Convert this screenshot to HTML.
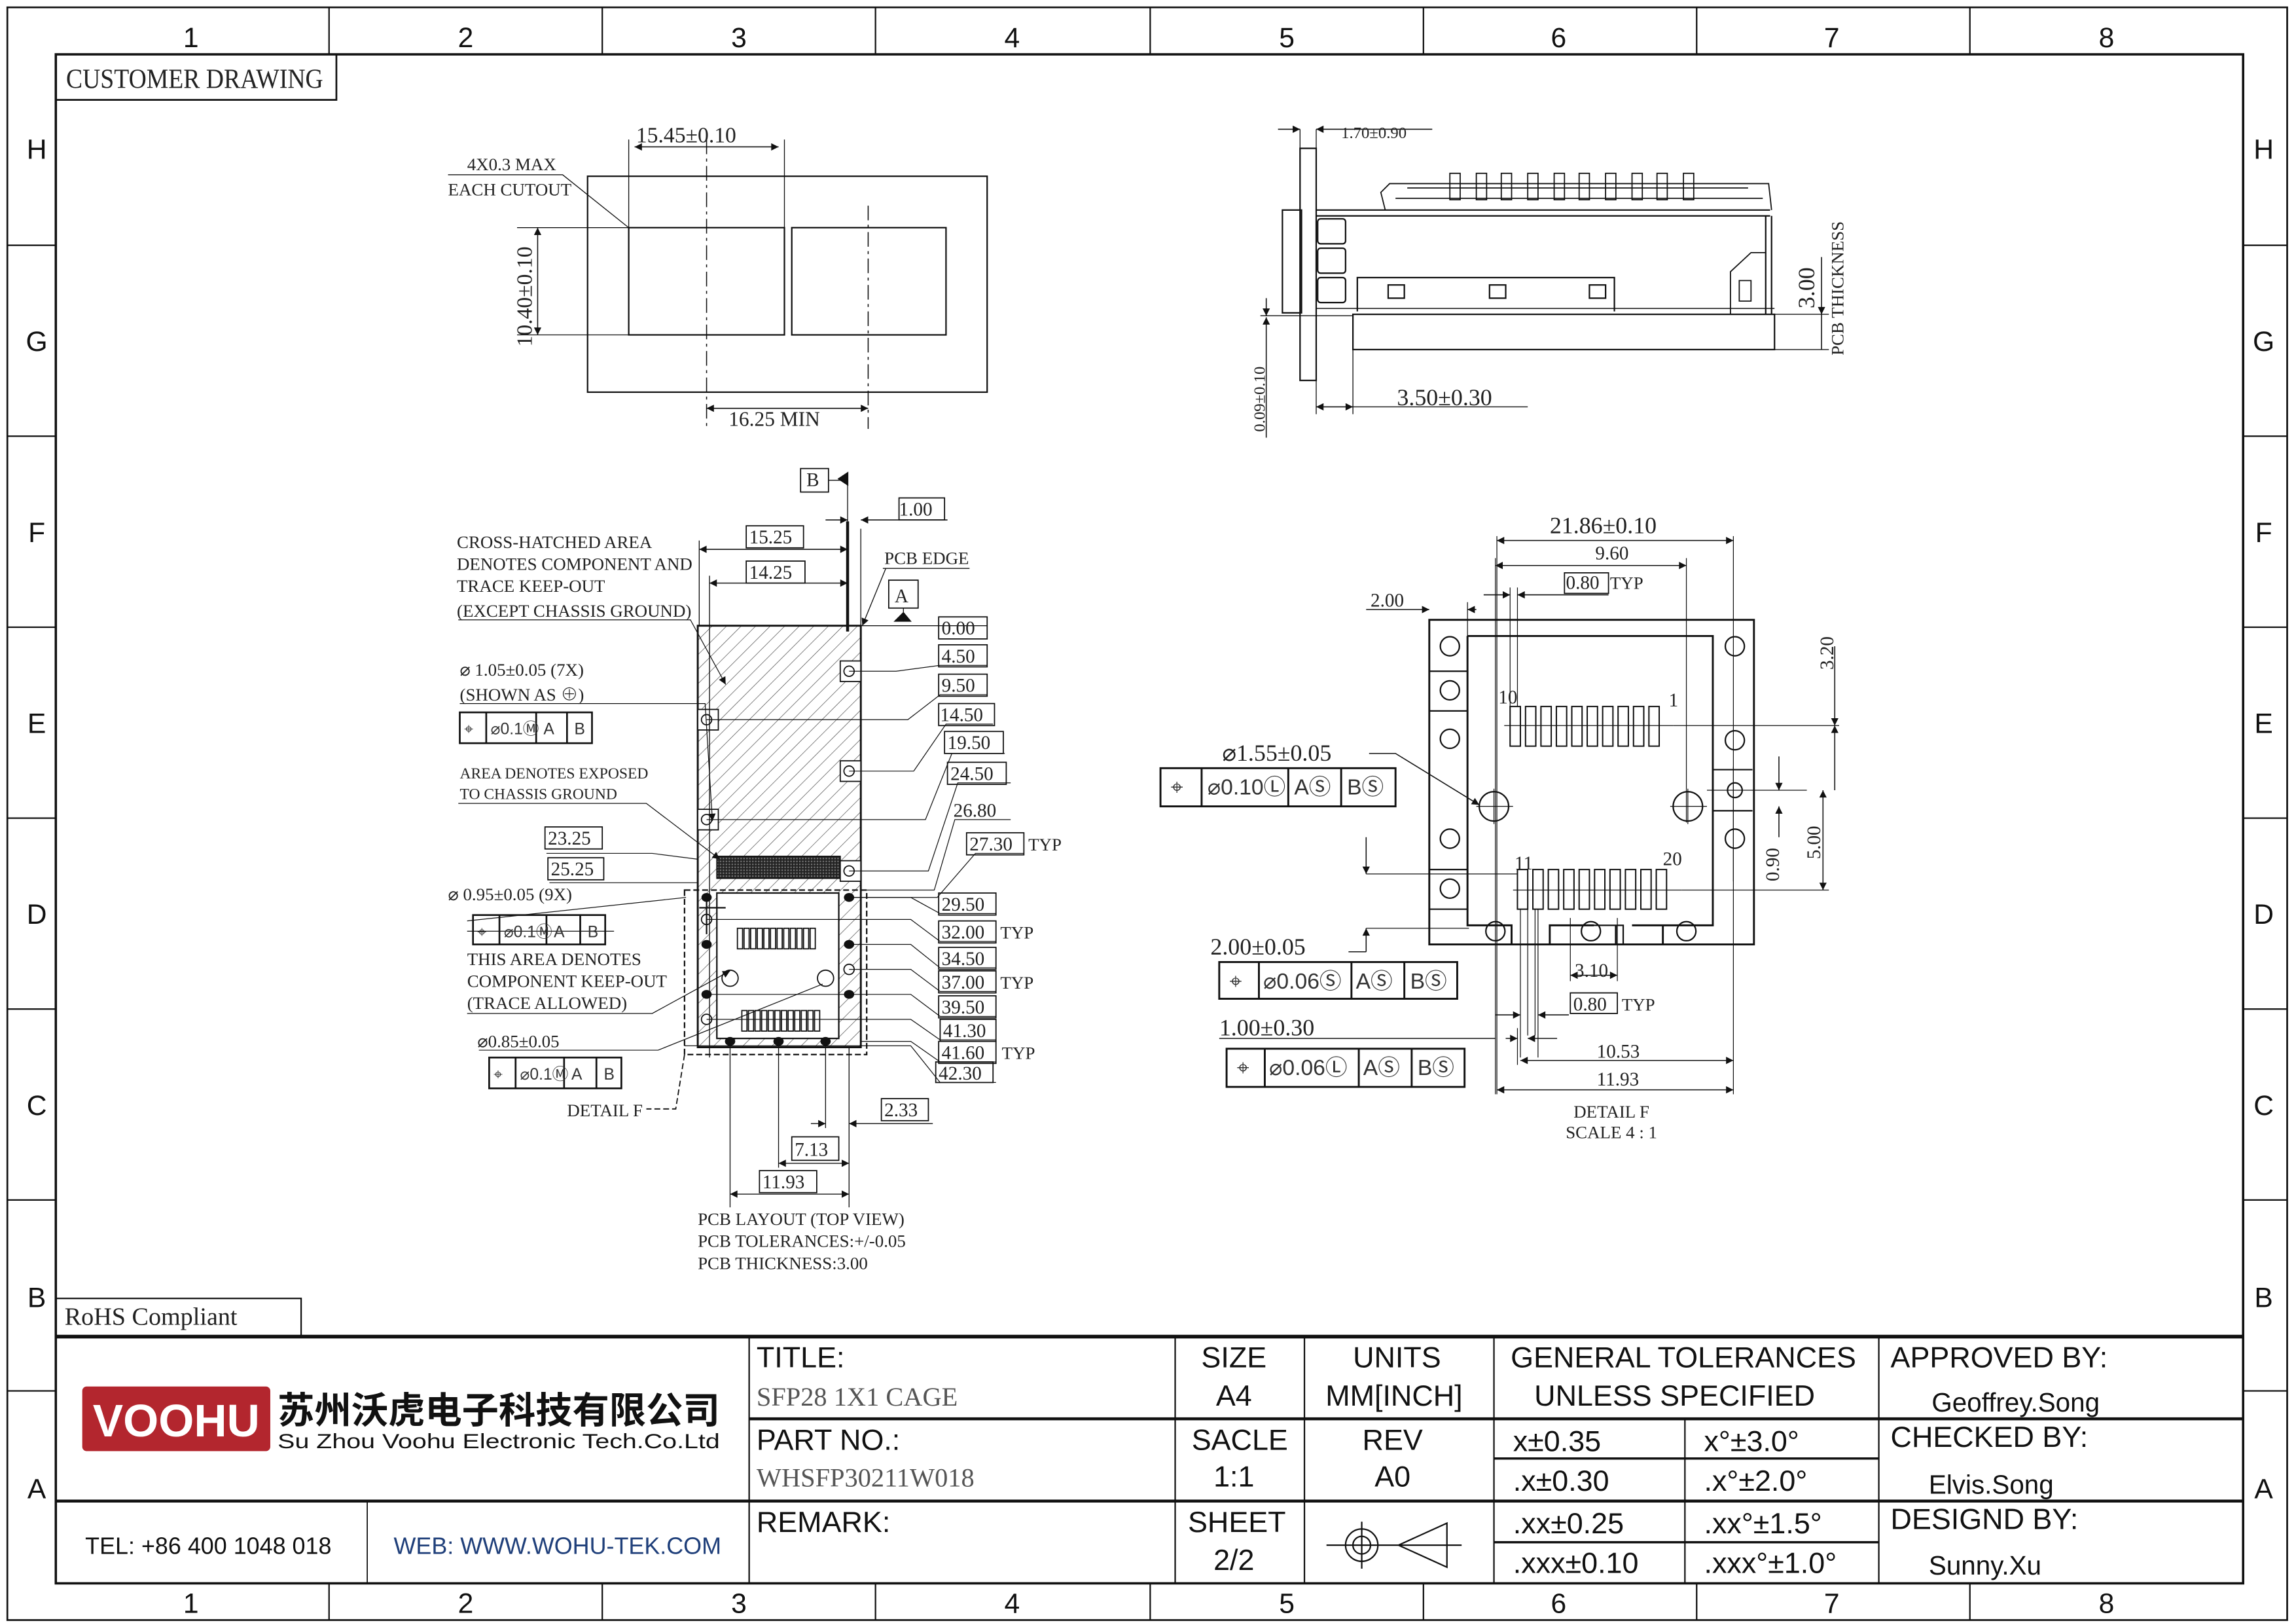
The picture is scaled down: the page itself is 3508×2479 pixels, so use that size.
<!DOCTYPE html>
<html><head><meta charset="utf-8"><style>
html,body{margin:0;padding:0;background:#fff}
svg{display:block}
.s{font-family:"Liberation Serif","Noto Serif CJK SC",serif;fill:#222}
.a{font-family:"Liberation Sans","Noto Sans CJK SC",sans-serif;fill:#111}
.m{font-family:"Liberation Sans",sans-serif;fill:#333}
</style></head><body>
<svg width="3508" height="2479" viewBox="0 0 1563 1105" preserveAspectRatio="none" xmlns="http://www.w3.org/2000/svg">
<defs>
<marker id="ar" viewBox="0 0 10 10" refX="10" refY="5" markerWidth="7" markerHeight="5" orient="auto-start-reverse" markerUnits="userSpaceOnUse"><path d="M0,0L10,5L0,10z" fill="#111"/></marker>
<pattern id="h" width="7" height="7" patternUnits="userSpaceOnUse" patternTransform="rotate(45)"><line x1="0" y1="0" x2="0" y2="7" stroke="#444" stroke-width="0.6"/></pattern>
<pattern id="d" width="2" height="2" patternUnits="userSpaceOnUse"><rect width="2" height="2" fill="#222"/><rect width="1" height="1" fill="#777"/></pattern>
</defs>
<rect width="1563" height="1105" fill="#fff"/>
<g fill="none" stroke="#111">
<rect x="5" y="5" width="1552" height="1098" stroke-width="1.2"/>
<rect x="38" y="37" width="1489" height="1041" stroke-width="1.6"/>
<path d="M224 5V37M410 5V37M596 5V37M783 5V37M969 5V37M1155 5V37M1341 5V37M224 1078V1103M410 1078V1103M596 1078V1103M783 1078V1103M969 1078V1103M1155 1078V1103M1341 1078V1103" stroke-width="1"/>
<path d="M5 167H38M5 297H38M5 427H38M5 557H38M5 687H38M5 817H38M5 947H38M1527 167H1557M1527 297H1557M1527 427H1557M1527 557H1557M1527 687H1557M1527 817H1557M1527 947H1557" stroke-width="1"/>
</g>
<g class="a" font-size="19" text-anchor="middle">
<text x="130" y="32">1</text><text x="317" y="32">2</text><text x="503" y="32">3</text><text x="689" y="32">4</text><text x="876" y="32">5</text><text x="1061" y="32">6</text><text x="1247" y="32">7</text><text x="1434" y="32">8</text>
<text x="130" y="1098">1</text><text x="317" y="1098">2</text><text x="503" y="1098">3</text><text x="689" y="1098">4</text><text x="876" y="1098">5</text><text x="1061" y="1098">6</text><text x="1247" y="1098">7</text><text x="1434" y="1098">8</text>
<text x="25" y="108">H</text><text x="25" y="239">G</text><text x="25" y="369">F</text><text x="25" y="499">E</text><text x="25" y="629">D</text><text x="25" y="759">C</text><text x="25" y="890">B</text><text x="25" y="1020">A</text>
<text x="1541" y="108">H</text><text x="1541" y="239">G</text><text x="1541" y="369">F</text><text x="1541" y="499">E</text><text x="1541" y="629">D</text><text x="1541" y="759">C</text><text x="1541" y="890">B</text><text x="1541" y="1020">A</text>
</g>
<rect x="38" y="37" width="191" height="31" fill="none" stroke="#111" stroke-width="1.2"/>
<text x="45" y="60" class="s" font-size="19" textLength="175" lengthAdjust="spacingAndGlyphs">CUSTOMER DRAWING</text>
<rect x="38" y="884" width="167" height="26" fill="none" stroke="#111" stroke-width="1"/>
<text x="44" y="902" class="s" font-size="17">RoHS Compliant</text>

<!-- cutout drawing -->
<g fill="none" stroke="#111" stroke-width="1">
<rect x="400" y="120" width="272" height="147"/>
<rect x="428" y="155" width="106" height="73"/>
<rect x="539" y="155" width="105" height="73"/>
<path d="M481 95V292M591 140V292" stroke-dasharray="10 3 2 3" stroke-width="0.7"/>
<path d="M428 95V155M534 95V155" stroke-width="0.6"/>
<line x1="432" y1="100" x2="530" y2="100" marker-start="url(#ar)" marker-end="url(#ar)" stroke-width="0.7"/>
<path d="M352 155H428M352 228H428" stroke-width="0.6"/>
<line x1="366" y1="155" x2="366" y2="228" marker-start="url(#ar)" marker-end="url(#ar)" stroke-width="0.7"/>
<line x1="481" y1="278" x2="591" y2="278" marker-start="url(#ar)" marker-end="url(#ar)" stroke-width="0.7"/>
<path d="M305 119H383L428 155" stroke-width="0.6"/>
</g>
<text x="433" y="97" class="s" font-size="15">15.45±0.10</text>
<text transform="translate(362,236) rotate(-90)" class="s" font-size="15">10.40±0.10</text>
<text x="496" y="290" class="s" font-size="14">16.25 MIN</text>
<text x="318" y="116" class="s" font-size="12">4X0.3 MAX</text>
<text x="305" y="133" class="s" font-size="12">EACH CUTOUT</text>

<!-- side view -->
<g fill="none" stroke="#111" stroke-width="1">
<rect x="885" y="101" width="11" height="158"/>
<rect x="873" y="143" width="13" height="70"/>
<rect x="897" y="149" width="19" height="17" rx="2"/><rect x="897" y="169" width="19" height="17" rx="2"/><rect x="897" y="189" width="19" height="17" rx="2"/>
<path d="M896 143H1205M896 147H1205"/>
<path d="M943 143L940 131L946 125H1204L1206 143M950 135H1200M958 128H1190" stroke-width="0.8"/>
<g stroke-width="0.8">
<rect x="987" y="118" width="7" height="18"/><rect x="1005" y="118" width="7" height="18"/><rect x="1022" y="118" width="7" height="18"/><rect x="1040" y="118" width="7" height="18"/><rect x="1058" y="118" width="7" height="18"/><rect x="1075" y="118" width="7" height="18"/><rect x="1093" y="118" width="7" height="18"/><rect x="1111" y="118" width="7" height="18"/><rect x="1128" y="118" width="7" height="18"/><rect x="1146" y="118" width="7" height="18"/>
</g>
<path d="M924 212V189H1099V212" />
<rect x="945" y="194" width="11" height="9"/><rect x="1014" y="194" width="11" height="9"/><rect x="1082" y="194" width="11" height="9"/>
<path d="M1202 147V214M1206 147V214"/>
<path d="M1178 214V185L1192 172H1202M1184 191h8v14h-8z" stroke-width="0.8"/>
<path d="M896 210H1208" stroke-width="0.7"/>
<rect x="921" y="214" width="287" height="24"/>
<path d="M885 88V101M896 88V101" stroke-width="0.6"/>
<line x1="870" y1="88" x2="885" y2="88" marker-end="url(#ar)" stroke-width="0.7"/>
<line x1="975" y1="88" x2="896" y2="88" marker-end="url(#ar)" stroke-width="0.7"/>
<path d="M858 215H921" stroke-width="0.6"/>
<line x1="862" y1="203" x2="862" y2="215" marker-end="url(#ar)" stroke-width="0.7"/>
<line x1="862" y1="298" x2="862" y2="216" marker-end="url(#ar)" stroke-width="0.7"/>
<path d="M896 259V282M921 238V282" stroke-width="0.6"/>
<line x1="896" y1="277" x2="921" y2="277" marker-start="url(#ar)" marker-end="url(#ar)" stroke-width="0.7"/>
<line x1="921" y1="277" x2="1040" y2="277" stroke-width="0.6"/>
<path d="M1208 214H1245M1208 238H1245" stroke-width="0.6"/>
<line x1="1240" y1="175" x2="1240" y2="214" marker-end="url(#ar)" stroke-width="0.7"/>
<line x1="1240" y1="238" x2="1240" y2="214" stroke-width="0.7"/>
</g>
<text x="913" y="94" class="s" font-size="11">1.70±0.90</text>
<text transform="translate(861,294) rotate(-90)" class="s" font-size="11">0.09±0.10</text>
<text x="951" y="276" class="s" font-size="16">3.50±0.30</text>
<text transform="translate(1235,210) rotate(-90)" class="s" font-size="16">3.00</text>
<text transform="translate(1255,242) rotate(-90)" class="s" font-size="12">PCB  THICKNESS</text>

<!-- PCB layout -->
<g stroke="#111" fill="none">
<rect x="475" y="426" width="111" height="287" fill="url(#h)" stroke-width="1.3"/>
<rect x="488" y="608" width="83" height="99" fill="#fff" stroke-width="1"/>
<rect x="488" y="583" width="84" height="15" fill="url(#d)" stroke-width="0.8"/>
<rect x="466" y="606" width="124" height="112" stroke-dasharray="4 2" stroke-width="1"/>
<path d="M466 718L460 755H440" stroke-dasharray="4 2" stroke-width="0.8"/>
<g stroke-width="0.8">
<rect x="502" y="632" width="3.5" height="14"/><rect x="506.5" y="632" width="3.5" height="14"/><rect x="511" y="632" width="3.5" height="14"/><rect x="515.5" y="632" width="3.5" height="14"/><rect x="520" y="632" width="3.5" height="14"/><rect x="524.5" y="632" width="3.5" height="14"/><rect x="529" y="632" width="3.5" height="14"/><rect x="533.5" y="632" width="3.5" height="14"/><rect x="538" y="632" width="3.5" height="14"/><rect x="542.5" y="632" width="3.5" height="14"/><rect x="547" y="632" width="3.5" height="14"/><rect x="551.5" y="632" width="3.5" height="14"/>
<rect x="505" y="688" width="3.5" height="14"/><rect x="509.5" y="688" width="3.5" height="14"/><rect x="514" y="688" width="3.5" height="14"/><rect x="518.5" y="688" width="3.5" height="14"/><rect x="523" y="688" width="3.5" height="14"/><rect x="527.5" y="688" width="3.5" height="14"/><rect x="532" y="688" width="3.5" height="14"/><rect x="536.5" y="688" width="3.5" height="14"/><rect x="541" y="688" width="3.5" height="14"/><rect x="545.5" y="688" width="3.5" height="14"/><rect x="550" y="688" width="3.5" height="14"/><rect x="554.5" y="688" width="3.5" height="14"/>
</g>
<g stroke-width="0.8" fill="#fff">
<rect x="572" y="450" width="14" height="14"/><circle cx="578" cy="457" r="3.5"/>
<rect x="475" y="483" width="14" height="14"/><circle cx="481" cy="490" r="3.5"/>
<rect x="572" y="518" width="14" height="14"/><circle cx="578" cy="525" r="3.5"/>
<rect x="475" y="551" width="14" height="14"/><circle cx="481" cy="558" r="3.5"/>
<rect x="572" y="586" width="14" height="14"/><circle cx="578" cy="593" r="3.5"/>
<circle cx="481" cy="626" r="3.5"/><circle cx="578" cy="660" r="3.5"/><circle cx="481" cy="694" r="3.5"/>
<circle cx="497" cy="666" r="5.5"/><circle cx="562" cy="666" r="5.5"/>
</g>
<g fill="#111" stroke="none">
<ellipse cx="481" cy="611" rx="3.5" ry="3"/><ellipse cx="481" cy="643" rx="3.5" ry="3"/><ellipse cx="481" cy="677" rx="3.5" ry="3"/>
<ellipse cx="578" cy="611" rx="3.5" ry="3"/><ellipse cx="578" cy="643" rx="3.5" ry="3"/><ellipse cx="578" cy="677" rx="3.5" ry="3"/>
<ellipse cx="497" cy="709" rx="3.5" ry="3"/><ellipse cx="530" cy="709" rx="3.5" ry="3"/><ellipse cx="562" cy="709" rx="3.5" ry="3"/>
</g>
<path d="M476 618H494M481 611V636" stroke-width="1"/>
<path d="M577 355V430" stroke-width="2"/>
<path d="M577 325V355M586 360V427M476 368V426M483 392V720" stroke-width="0.6"/>
<path d="M577 322L571 326L577 330z" fill="#111"/>
<line x1="564" y1="327" x2="577" y2="327" stroke-width="0.6"/>
<line x1="476" y1="374" x2="577" y2="374" marker-start="url(#ar)" marker-end="url(#ar)" stroke-width="0.7"/>
<line x1="483" y1="397" x2="577" y2="397" marker-start="url(#ar)" marker-end="url(#ar)" stroke-width="0.7"/>
<line x1="562" y1="354" x2="577" y2="354" marker-end="url(#ar)" stroke-width="0.7"/>
<line x1="645" y1="354" x2="586" y2="354" marker-end="url(#ar)" stroke-width="0.7"/>
<line x1="603" y1="387" x2="587" y2="426" marker-end="url(#ar)" stroke-width="0.6"/>
<path d="M601 387H660" stroke-width="0.6"/>
<path d="M586 426H672" stroke-width="0.6"/>
<path d="M615 414V419M609 423H620L615 417z" fill="#111" stroke-width="0.6"/>
<g stroke-width="0.55">
<path d="M578 457H610L640 453H672"/>
<path d="M481 490H618L640 473H672"/>
<path d="M578 525H622L644 493H676"/>
<path d="M481 558H630L648 513H684"/>
<path d="M578 593H632L652 533H688"/>
<path d="M590 606H636L650 558H688"/>
<path d="M578 611H638L664 581H697"/>
<path d="M578 611H620L640 622H678"/>
<path d="M481 626H620L640 641H678"/>
<path d="M578 643H620L640 659H678"/>
<path d="M578 660H620L640 675H678"/>
<path d="M481 677H620L640 692H678"/>
<path d="M481 694H620L640 708H678"/>
<path d="M586 709H620L640 723H678"/>
<path d="M466 712H620L640 737H678"/>
</g>
<g stroke-width="0.55">
<path d="M312 422H470L494 466" marker-end="url(#ar)"/>
<path d="M313 479H480L485 559" marker-end="url(#ar)"/>
<path d="M312 547H440L490 585" marker-end="url(#ar)"/>
<path d="M372 581H444L475 585M374 601H475M318 634H418M467 611L318 627"/>
<path d="M318 690H444L497 661" marker-end="url(#ar)"/>
<path d="M326 715H448L560 670"/>
</g>
<path d="M497 710V822M530 710V795M562 710V768M578 713V822" stroke-width="0.6"/>
<line x1="552" y1="765" x2="562" y2="765" marker-end="url(#ar)" stroke-width="0.6"/>
<line x1="635" y1="765" x2="578" y2="765" marker-end="url(#ar)" stroke-width="0.6"/>
<line x1="530" y1="792" x2="578" y2="792" marker-start="url(#ar)" marker-end="url(#ar)" stroke-width="0.6"/>
<line x1="497" y1="813" x2="578" y2="813" marker-start="url(#ar)" marker-end="url(#ar)" stroke-width="0.6"/>
<g stroke-width="0.8">
<rect x="545" y="319" width="19" height="16"/>
<rect x="612" y="339" width="31" height="15"/>
<rect x="508" y="358" width="39" height="15"/>
<rect x="508" y="382" width="40" height="15"/>
<rect x="605" y="395" width="20" height="19"/>
<rect x="639" y="420" width="33" height="15"/><rect x="639" y="439" width="33" height="15"/><rect x="639" y="459" width="33" height="15"/><rect x="639" y="479" width="38" height="15"/><rect x="643" y="498" width="40" height="15"/><rect x="645" y="519" width="40" height="15"/>
<rect x="658" y="567" width="39" height="15"/>
<rect x="639" y="608" width="39" height="15"/><rect x="639" y="627" width="39" height="15"/><rect x="639" y="645" width="39" height="15"/><rect x="639" y="661" width="39" height="15"/><rect x="639" y="678" width="39" height="15"/><rect x="640" y="694" width="38" height="15"/><rect x="639" y="709" width="39" height="15"/><rect x="637" y="723" width="39" height="14"/>
<rect x="371" y="563" width="39" height="15"/><rect x="373" y="584" width="38" height="15"/>
<rect x="600" y="748" width="32" height="15"/><rect x="539" y="774" width="32" height="16"/><rect x="517" y="797" width="39" height="15"/>
</g>
<g stroke-width="1.2">
<rect x="313" y="485" width="90" height="21"/><path d="M331 485V506M365 485V506M386 485V506"/>
<rect x="322" y="623" width="90" height="20"/><path d="M340 623V643M372 623V643M395 623V643"/>
<rect x="333" y="720" width="90" height="21"/><path d="M351 720V741M384 720V741M406 720V741"/>
</g>
</g>
<g class="s" font-size="13">
<text x="549" y="331">B</text><text x="612" y="351">1.00</text><text x="510" y="370">15.25</text><text x="510" y="394">14.25</text>
<text x="609" y="410">A</text><text x="602" y="384" font-size="12">PCB EDGE</text>
<text x="641" y="432">0.00</text><text x="641" y="451">4.50</text><text x="641" y="471">9.50</text><text x="640" y="491">14.50</text><text x="645" y="510">19.50</text><text x="647" y="531">24.50</text>
<text x="649" y="556">26.80</text><text x="660" y="579">27.30</text><text x="700" y="579" font-size="12">TYP</text>
<text x="641" y="620">29.50</text><text x="641" y="639">32.00</text><text x="681" y="639" font-size="12">TYP</text>
<text x="641" y="657">34.50</text><text x="641" y="673">37.00</text><text x="681" y="673" font-size="12">TYP</text>
<text x="641" y="690">39.50</text><text x="642" y="706">41.30</text><text x="641" y="721">41.60</text><text x="682" y="721" font-size="12">TYP</text>
<text x="639" y="735">42.30</text>
<text x="373" y="575">23.25</text><text x="375" y="596">25.25</text>
<text x="602" y="760">2.33</text><text x="541" y="787">7.13</text><text x="519" y="809">11.93</text>
</g>
<g class="s" font-size="12">
<text x="311" y="373">CROSS-HATCHED AREA</text>
<text x="311" y="388">DENOTES COMPONENT AND</text>
<text x="311" y="403">TRACE KEEP-OUT</text>
<text x="311" y="420">(EXCEPT CHASSIS GROUND)</text>
<text x="313" y="460">⌀ 1.05±0.05 (7X)</text>
<text x="313" y="477">(SHOWN AS ⊕)</text>
<text x="313" y="530" font-size="10.5">AREA DENOTES EXPOSED</text>
<text x="313" y="544" font-size="10.5">TO CHASSIS GROUND</text>
<text x="305" y="613">⌀ 0.95±0.05 (9X)</text>
<text x="318" y="657">THIS AREA DENOTES</text>
<text x="318" y="672">COMPONENT KEEP-OUT</text>
<text x="318" y="687">(TRACE ALLOWED)</text>
<text x="325" y="713">⌀0.85±0.05</text>
<text x="386" y="760">DETAIL F</text>
<text x="475" y="834">PCB LAYOUT  (TOP VIEW)</text>
<text x="475" y="849">PCB TOLERANCES:+/-0.05</text>
<text x="475" y="864">PCB THICKNESS:3.00</text>
</g>
<g class="m" font-size="11">
<text x="316" y="500">⌖</text><text x="334" y="500">⌀0.1Ⓜ</text><text x="370" y="500">A</text><text x="391" y="500">B</text>
<text x="325" y="638">⌖</text><text x="343" y="638">⌀0.1Ⓜ</text><text x="377" y="638">A</text><text x="400" y="638">B</text>
<text x="336" y="735">⌖</text><text x="354" y="735">⌀0.1Ⓜ</text><text x="389" y="735">A</text><text x="411" y="735">B</text>
</g>

<!-- Detail F -->
<g fill="none" stroke="#111" stroke-width="1.3">
<rect x="973" y="422" width="221" height="221"/>
<path d="M999 433H1166V630H1132V643M999 433V630H1029V643M1055 643V630H1085M1100 630V643M1111 630H1166"/>
<path d="M1055 630H1105V643" stroke-width="1"/>
<path d="M973 457H999M973 484H999M973 592H999M973 619H999M1166 524H1193M1166 552H1193" stroke-width="1"/>
<g stroke-width="1">
<circle cx="987" cy="440" r="6.5"/><circle cx="987" cy="470" r="6.5"/><circle cx="987" cy="503" r="6.5"/><circle cx="987" cy="571" r="6.5"/><circle cx="987" cy="605" r="6.5"/>
<circle cx="1181" cy="440" r="6.5"/><circle cx="1181" cy="504" r="6.5"/><circle cx="1181" cy="538" r="5"/><circle cx="1181" cy="571" r="6.5"/>
<circle cx="1018" cy="634" r="6.5"/><circle cx="1083" cy="634" r="6.5"/><circle cx="1148" cy="634" r="6.5"/>
<circle cx="1017" cy="549" r="10"/><circle cx="1149" cy="549" r="10"/>
</g>
<g stroke-width="0.9">
<rect x="1028" y="481" width="7" height="27"/><rect x="1038.5" y="481" width="7" height="27"/><rect x="1049" y="481" width="7" height="27"/><rect x="1059.5" y="481" width="7" height="27"/><rect x="1070" y="481" width="7" height="27"/><rect x="1080.5" y="481" width="7" height="27"/><rect x="1091" y="481" width="7" height="27"/><rect x="1101.5" y="481" width="7" height="27"/><rect x="1112" y="481" width="7" height="27"/><rect x="1122.5" y="481" width="7" height="27"/>
<rect x="1033" y="592" width="7" height="27"/><rect x="1043.5" y="592" width="7" height="27"/><rect x="1054" y="592" width="7" height="27"/><rect x="1064.5" y="592" width="7" height="27"/><rect x="1075" y="592" width="7" height="27"/><rect x="1085.5" y="592" width="7" height="27"/><rect x="1096" y="592" width="7" height="27"/><rect x="1106.5" y="592" width="7" height="27"/><rect x="1117" y="592" width="7" height="27"/><rect x="1127.5" y="592" width="7" height="27"/>
</g>
<g stroke-width="0.55">
<path d="M1024 494H1139M1030 606H1145M1005 549H1030M1137 549H1162M1017 537V561M1149 537V561"/>
<path d="M1019 365V745M1180 365V745M1018 380V745M1148 380V560M1028 400V481M1033 400V481M1035 619V720M1040 619V705M1045 619V705M1047 619V720M1033 700V725"/>
<path d="M999 410V433M930 595H1033M930 632H1000M1139 494H1252M1162 538H1230M1180 522V600M1145 606H1245"/>
<path d="M1069 625V668M1101 625V668"/>
</g>
<g stroke-width="0.7">
<line x1="1019" y1="368" x2="1180" y2="368" marker-start="url(#ar)" marker-end="url(#ar)"/>
<line x1="1018" y1="385" x2="1148" y2="385" marker-start="url(#ar)" marker-end="url(#ar)"/>
<line x1="1010" y1="405" x2="1028" y2="405" marker-end="url(#ar)"/>
<line x1="1095" y1="405" x2="1033" y2="405" marker-end="url(#ar)"/>
<line x1="930" y1="415" x2="973" y2="415" marker-end="url(#ar)"/>
<line x1="1005" y1="415" x2="999" y2="415" marker-end="url(#ar)"/>
<line x1="1249" y1="440" x2="1249" y2="494" marker-end="url(#ar)"/>
<line x1="1249" y1="538" x2="1249" y2="494" marker-end="url(#ar)"/>
<line x1="1241" y1="538" x2="1241" y2="606" marker-start="url(#ar)" marker-end="url(#ar)"/>
<line x1="1211" y1="515" x2="1211" y2="538" marker-end="url(#ar)"/>
<line x1="1211" y1="570" x2="1211" y2="549" marker-end="url(#ar)"/>
<line x1="930" y1="570" x2="930" y2="595" marker-end="url(#ar)"/>
<line x1="930" y1="648" x2="930" y2="632" marker-end="url(#ar)"/>
<path d="M930 648H918"/>
<line x1="1069" y1="664" x2="1101" y2="664" marker-start="url(#ar)" marker-end="url(#ar)"/>
<line x1="1018" y1="691" x2="1035" y2="691" marker-end="url(#ar)"/>
<line x1="1068" y1="691" x2="1047" y2="691" marker-end="url(#ar)"/>
<line x1="830" y1="707" x2="1018" y2="707" />
<line x1="1025" y1="707" x2="1033" y2="707" marker-end="url(#ar)"/>
<line x1="1060" y1="707" x2="1040" y2="707" marker-end="url(#ar)"/>
<line x1="1035" y1="722" x2="1180" y2="722" marker-start="url(#ar)" marker-end="url(#ar)"/>
<line x1="1019" y1="742" x2="1180" y2="742" marker-start="url(#ar)" marker-end="url(#ar)"/>
<path d="M932 513H950L1007 548" marker-end="url(#ar)"/>
</g>
<g stroke-width="1.3">
<rect x="790" y="523" width="160" height="26"/><path d="M818 523V549M877 523V549M913 523V549"/>
<rect x="830" y="655" width="162" height="25"/><path d="M857 655V680M920 655V680M956 655V680"/>
<rect x="835" y="714" width="162" height="26"/><path d="M861 714V740M925 714V740M961 714V740"/>
</g>
<g stroke-width="0.8"><rect x="1065" y="390" width="30" height="14"/><rect x="1069" y="676" width="32" height="14"/></g>
</g>
<g class="s">
<text x="1055" y="363" font-size="16">21.86±0.10</text>
<text x="1086" y="381" font-size="13">9.60</text>
<text x="1066" y="401" font-size="13">0.80</text><text x="1096" y="401" font-size="12">TYP</text>
<text x="933" y="413" font-size="13">2.00</text>
<text transform="translate(1248,456) rotate(-90)" font-size="13">3.20</text>
<text transform="translate(1239,585) rotate(-90)" font-size="13">5.00</text>
<text transform="translate(1211,600) rotate(-90)" font-size="13">0.90</text>
<text x="1020" y="479" font-size="13">10</text><text x="1136" y="481" font-size="13">1</text>
<text x="1031" y="592" font-size="13">11</text><text x="1132" y="589" font-size="13">20</text>
<text x="832" y="518" font-size="16">⌀1.55±0.05</text>
<text x="824" y="650" font-size="16">2.00±0.05</text>
<text x="830" y="705" font-size="16">1.00±0.30</text>
<text x="1072" y="665" font-size="13">3.10</text>
<text x="1071" y="688" font-size="13">0.80</text><text x="1104" y="688" font-size="12">TYP</text>
<text x="1087" y="720" font-size="13">10.53</text>
<text x="1087" y="739" font-size="13">11.93</text>
<text x="1097" y="761" font-size="12" text-anchor="middle">DETAIL F</text>
<text x="1097" y="775" font-size="12" text-anchor="middle">SCALE 4 : 1</text>
</g>
<g class="m" font-size="15">
<text x="797" y="541">⌖</text><text x="822" y="541">⌀0.10Ⓛ</text><text x="881" y="541">AⓈ</text><text x="917" y="541">BⓈ</text>
<text x="837" y="673">⌖</text><text x="860" y="673">⌀0.06Ⓢ</text><text x="923" y="673">AⓈ</text><text x="960" y="673">BⓈ</text>
<text x="842" y="732">⌖</text><text x="864" y="732">⌀0.06Ⓛ</text><text x="928" y="732">AⓈ</text><text x="965" y="732">BⓈ</text>
</g>

<!-- title block -->
<g fill="none" stroke="#111">
<path d="M38 910H1527" stroke-width="2.5"/>
<path d="M510 966H1527M38 1022H1527" stroke-width="2"/>
<path d="M1017 993H1279M1017 1050H1279" stroke-width="1.6"/>
<path d="M510 910V1078M800 910V1078M888 910V1078M1017 910V1078M1279 910V1078" stroke-width="1"/>
<path d="M1147 966V1078" stroke-width="1"/>
<path d="M250 1022V1078" stroke-width="0.8"/>
<circle cx="927" cy="1052" r="11" stroke-width="1"/><circle cx="927" cy="1052" r="6" stroke-width="1"/>
<path d="M903 1052H995M927 1036V1068M952 1052L985 1037V1067z" stroke-width="1"/>
</g>
<rect x="56" y="944" width="128" height="44" rx="3" fill="#b3262e"/>
<text x="120" y="978" text-anchor="middle" class="a" font-size="31" font-weight="bold" style="fill:#fff">VOOHU</text>
<text x="189" y="969" class="a" font-size="25" font-weight="bold" textLength="301" lengthAdjust="spacingAndGlyphs">苏州沃虎电子科技有限公司</text>
<text x="189" y="986" class="a" font-size="14" textLength="301" lengthAdjust="spacingAndGlyphs">Su Zhou Voohu Electronic Tech.Co.Ltd</text>
<g class="a" font-size="20">
<text x="515" y="931">TITLE:</text>
<text x="515" y="987">PART NO.:</text>
<text x="515" y="1043">REMARK:</text>
<text x="840" y="931" text-anchor="middle">SIZE</text><text x="840" y="957" text-anchor="middle">A4</text>
<text x="844" y="987" text-anchor="middle">SACLE</text><text x="840" y="1012" text-anchor="middle">1:1</text>
<text x="842" y="1043" text-anchor="middle">SHEET</text><text x="840" y="1069" text-anchor="middle">2/2</text>
<text x="951" y="931" text-anchor="middle">UNITS</text><text x="949" y="957" text-anchor="middle">MM[INCH]</text>
<text x="948" y="987" text-anchor="middle">REV</text><text x="948" y="1012" text-anchor="middle">A0</text>
<text x="1146" y="931" text-anchor="middle">GENERAL TOLERANCES</text>
<text x="1140" y="957" text-anchor="middle">UNLESS SPECIFIED</text>
<text x="1030" y="988">x±0.35</text><text x="1160" y="988">x°±3.0°</text>
<text x="1030" y="1015">.x±0.30</text><text x="1160" y="1015">.x°±2.0°</text>
<text x="1030" y="1044">.xx±0.25</text><text x="1160" y="1044">.xx°±1.5°</text>
<text x="1030" y="1071">.xxx±0.10</text><text x="1160" y="1071">.xxx°±1.0°</text>
<text x="1287" y="931">APPROVED BY:</text>
<text x="1287" y="985">CHECKED BY:</text>
<text x="1287" y="1041">DESIGND BY:</text>
</g>
<g class="a" font-size="18">
<text x="1315" y="961">Geoffrey.Song</text>
<text x="1313" y="1017">Elvis.Song</text>
<text x="1313" y="1072">Sunny.Xu</text>
</g>
<text x="515" y="957" class="s" font-size="18" style="fill:#555">SFP28 1X1 CAGE</text>
<text x="515" y="1012" class="s" font-size="18" style="fill:#555">WHSFP30211W018</text>
<text x="58" y="1058" class="a" font-size="16">TEL: +86 400 1048 018</text>
<text x="268" y="1058" class="a" font-size="16" style="fill:#1f3f7a">WEB: WWW.WOHU-TEK.COM</text>
</svg>
</body></html>
